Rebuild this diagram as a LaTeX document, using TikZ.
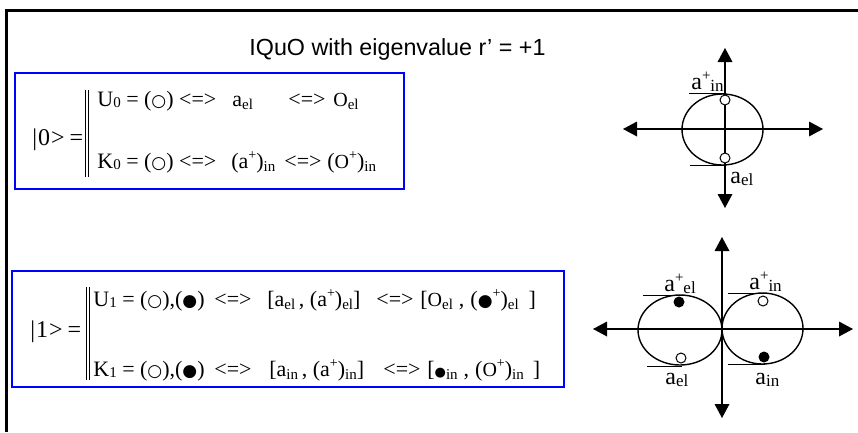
\documentclass[tikz,border=0pt]{standalone}
\usepackage{fontspec}
\setmainfont{Liberation Serif}
\newfontfamily\headfont{Liberation Sans}
\newfontfamily\dotfont{DejaVu Sans}
\usetikzlibrary{positioning}
\tikzset{every picture/.style={line width=0.75pt}}
\tikzset{
  frameline/.style={line width=3.2pt},
  statebox/.style={draw={rgb, 255:red, 0; green, 0; blue, 255}, line width=1.3pt},
  axisline/.style={line width=1.4pt},
  orbit/.style={line width=1.4pt},
  tangent/.style={line width=1pt},
  axistip/.style={fill=black, draw opacity=0},
  opendot/.style={circle, draw, fill=white, line width=1pt, minimum size=10pt, inner sep=0pt},
  fulldot/.style={circle, fill=black, minimum size=11pt, inner sep=0pt},
  eqtext/.style={anchor=base west, inner sep=0pt, font=\fontsize{22}{24}\selectfont},
  kettext/.style={anchor=base west, inner sep=0pt, font=\fontsize{24}{26}\selectfont},
  pointlabel/.style={anchor=base west, inner sep=0pt, font=\fontsize{24}{26}\selectfont},
}
\newcommand{\lowtxt}[1]{\raisebox{-3pt}{\fontsize{15}{15}\selectfont #1}}
\newcommand{\hightxt}[1]{\raisebox{8.5pt}{\fontsize{14}{14}\selectfont #1}}
\newcommand{\lbllow}[1]{\raisebox{-2pt}{\fontsize{17}{17}\selectfont #1}}
\newcommand{\lblhigh}[1]{\raisebox{9pt}{\fontsize{15}{15}\selectfont #1}}
\newcommand{\idx}[1]{\raisebox{-1.5pt}{\fontsize{15}{15}\selectfont #1}}
\newcommand{\bigo}{{\fontsize{20}{20}\selectfont O}}
\newcommand{\wc}{{\dotfont\fontsize{17}{17}\selectfont ○}}
\newcommand{\bc}{{\dotfont\fontsize{17}{17}\selectfont ●}}
\newcommand{\bcs}{{\dotfont\fontsize{13}{13}\selectfont ●}}
\newcommand{\gap}{\hspace{6pt}}
\newcommand{\ket}[1]{|\kern1pt #1\kern1pt>\kern5pt=}
\begin{document}
\begin{tikzpicture}[x=1pt,y=1pt,yscale=-1,xscale=1]
\useasboundingbox (0,0) rectangle (858,432);

%Straight Lines: frame
\draw [frameline] (5,10.5) -- (858,10.5) ;
\draw [frameline] (6.5,9) -- (6.5,432) ;

% Text Node: title
\draw (397.5,55) node (title) [anchor=base][inner sep=0pt] [font=\headfont\fontsize{23.3}{26}\selectfont] {IQuO with eigenvalue r’ = +1};

%Shape: Rectangle, state 0
\draw [statebox] (15,73) rectangle (404,189) ;
% Text Node
\draw (32,145) node (ket0) [kettext] {\ket{0}};
%Straight Lines: double bar
\draw [line width=1pt] (85.5,90) -- (85.5,177) (88.5,90) -- (88.5,177) ;
% Text Node
\draw (97,106) node (u0a) [eqtext] {U\idx{0} = (\wc) <=>};
\draw (232,106) node (u0b) [eqtext] {a\lowtxt{el}};
\draw (288,106) node (u0c) [eqtext] {<=>};
\draw (333,106) node (u0d) [eqtext] {\bigo\lowtxt{el}};
\draw (97,168) node (k0a) [eqtext] {K\idx{0} = (\wc) <=>};
\draw (231,168) node (k0b) [eqtext] {(a\hightxt{+})\lowtxt{in}};
\draw (284,168) node (k0c) [eqtext] {<=>};
\draw (327,168) node (k0d) [eqtext] {(\bigo\hightxt{+})\lowtxt{in}};

%Shape: Rectangle, state 1
\draw [statebox] (12,271) rectangle (564,387) ;
% Text Node
\draw (30,337) node (ket1) [kettext] {\ket{1}};
%Straight Lines: double bar
\draw [line width=1pt] (86.5,287) -- (86.5,380) (89.5,287) -- (89.5,380) ;
% Text Node
\draw (93,306) node (u1a) [eqtext] {U\idx{1} = (\wc),(\bc)};
\draw (214,306) node (u1b) [eqtext] {<=>};
\draw (267,306) node (u1c) [eqtext] {[a\lowtxt{el}\,, (a\hightxt{+})\lowtxt{el}]};
\draw (376,306) node (u1d) [eqtext] {<=>};
\draw (420,306) node (u1e) [eqtext] {[\bigo\lowtxt{el}\gap,\gap(\bc\hightxt{+})\lowtxt{el}\hspace{10pt}]};
\draw (93,376) node (k1a) [eqtext] {K\idx{1} = (\wc),(\bc)};
\draw (214,376) node (k1b) [eqtext] {<=>};
\draw (269,376) node (k1c) [eqtext] {[a\lowtxt{in}\,, (a\hightxt{+})\lowtxt{in}]};
\draw (383,376) node (k1d) [eqtext] {<=>};
\draw (427,376) node (k1e) [eqtext] {[\bcs\lowtxt{in}\gap,\gap(\bigo\hightxt{+})\lowtxt{in}\hspace{9pt}]};

%Straight Lines: axes of state 0
\draw [axisline] (636,129) -- (810,129) ;
\draw [shift={(823,129)}, rotate = 0] [axistip] (0,0) -- (-14,-7.5) -- (-14,7.5) -- cycle ;
\draw [shift={(623,129)}, rotate = 180] [axistip] (0,0) -- (-14,-7.5) -- (-14,7.5) -- cycle ;
\draw [axisline] (725,61) -- (725,195) ;
\draw [shift={(725,48)}, rotate = 270] [axistip] (0,0) -- (-14,-7.5) -- (-14,7.5) -- cycle ;
\draw [shift={(725,208)}, rotate = 90] [axistip] (0,0) -- (-14,-7.5) -- (-14,7.5) -- cycle ;
%Shape: Ellipse
\draw [orbit] (722.5,129.5) ellipse [x radius=40.5, y radius=35.5] ;
%Straight Lines: tangents
\draw [tangent] (689,93.5) -- (724,93.5) ;
\draw [tangent] (690,165.5) -- (724,165.5) ;
%Shape: Circle
\node (p0top) [opendot] at (725,100) {};
\node (p0bot) [opendot] at (725,158) {};
% Text Node
\draw (691,89) node (l0top) [pointlabel] {a\lblhigh{+}\lbllow{in}};
\draw (730,183) node (l0bot) [pointlabel] {a\lbllow{el}};

%Straight Lines: axes of state 1
\draw [axisline] (606,329) -- (840,329) ;
\draw [shift={(853,329)}, rotate = 0] [axistip] (0,0) -- (-14,-7.5) -- (-14,7.5) -- cycle ;
\draw [shift={(593,329)}, rotate = 180] [axistip] (0,0) -- (-14,-7.5) -- (-14,7.5) -- cycle ;
\draw [axisline] (722,250) -- (722,405) ;
\draw [shift={(722,237)}, rotate = 270] [axistip] (0,0) -- (-14,-7.5) -- (-14,7.5) -- cycle ;
\draw [shift={(722,418)}, rotate = 90] [axistip] (0,0) -- (-14,-7.5) -- (-14,7.5) -- cycle ;
%Shape: Ellipse
\draw [orbit] (680,330) ellipse [x radius=42, y radius=35] ;
\draw [orbit] (762.5,328.5) ellipse [x radius=40.5, y radius=35.5] ;
%Straight Lines: tangents
\draw [tangent] (643,295) -- (681,295) ;
\draw [tangent] (647,366) -- (682,366) ;
\draw [tangent] (728,293) -- (765,293) ;
\draw [tangent] (728,364) -- (765,364) ;
%Shape: Circle
\node (p1a) [fulldot] at (679,302) {};
\node (p1b) [opendot] at (681,358) {};
\node (p1c) [opendot] at (763,301) {};
\node (p1d) [fulldot] at (764,357) {};
% Text Node
\draw (664,291) node (l1a) [pointlabel] {a\lblhigh{+}\lbllow{el}};
\draw (665,384) node (l1b) [pointlabel] {a\lbllow{el}};
\draw (749,289) node (l1c) [pointlabel] {a\lblhigh{+}\lbllow{in}};
\draw (755,384) node (l1d) [pointlabel] {a\lbllow{in}};

\end{tikzpicture}
\end{document}
